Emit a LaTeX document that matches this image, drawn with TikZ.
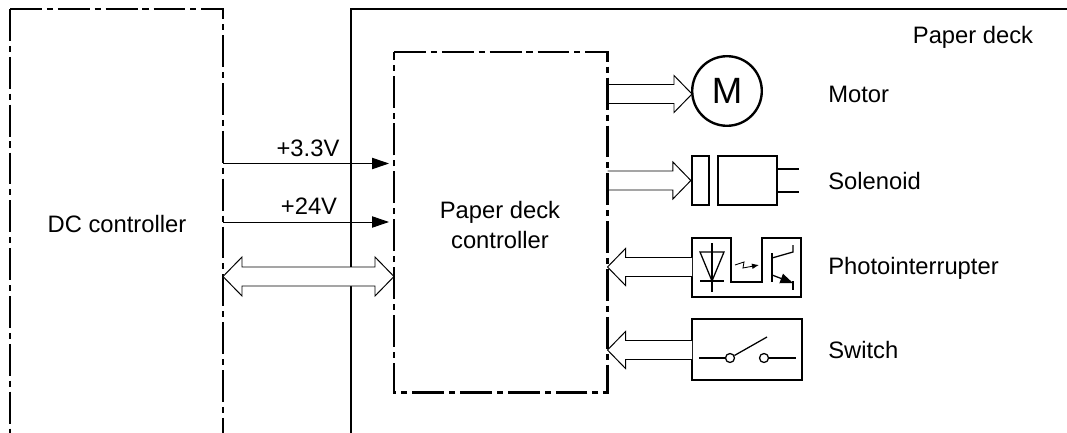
\documentclass[tikz,border=0pt]{standalone}
\usepackage{fontspec}
\setmainfont{Liberation Sans}
\usetikzlibrary{positioning, arrows.meta, calc}

\tikzset{
  label/.style={font=\fontsize{16.9}{21}\selectfont, inner sep=0pt, align=center},
  side/.style={label, anchor=west},
  dashdot/.style={line width=1.7pt, dash pattern=on 22.68pt off 3.5pt on 4.3pt off 3.54pt},
  solidbox/.style={draw, line width=1.7pt, inner sep=0pt},
  wire/.style={line width=0.7pt, -{Triangle[length=12pt,width=8pt]}},
  hollow/.style={draw, fill=white, line width=0.7pt},
  thin part/.style={line width=0.9pt}
}

% outline of a wide arrow, tip at the second point
\newcommand{\widearrow}[2]{
  \draw[hollow] ($(#1)!0.2375cm!90:(#2)$)
    -- ($($(#2)!0.45cm!(#1)$)!0.2375cm!90:(#2)$)
    -- ($($(#2)!0.45cm!(#1)$)!0.4625cm!90:(#2)$)
    -- (#2)
    -- ($($(#2)!0.45cm!(#1)$)!0.4625cm!-90:(#2)$)
    -- ($($(#2)!0.45cm!(#1)$)!0.2375cm!-90:(#2)$)
    -- ($(#1)!0.2375cm!-90:(#2)$);
}

\begin{document}
\begin{tikzpicture}[x=0.025cm, y=-0.025cm]

\useasboundingbox (0,0) rectangle (1067,433);

% ---------- BOXES ----------

\draw[dashdot] (10,9) -- (10,433);
\draw[dashdot] (10,9) -- (223,9) -- (223,433);
\draw[line width=1.7pt] (351,433) -- (351,9) -- (1067,9);

\node[label] (dc) at (117,224) {DC controller};
\node[label] (deck) at (973,37) {Paper deck};
\node[label] (ctrltext) at (500,225) {Paper deck\\controller};

% ---------- POWER AND BUS ----------

\coordinate (dc33) at (223,163.5);
\coordinate (ctrl33) at (389,163.5);
\coordinate (dc24) at (223,222);
\coordinate (ctrl24) at (389,222);
\coordinate (dcbus) at (223,276.5);
\coordinate (ctrlbus) at (394,276.5);

\draw[wire] (dc33) -- (ctrl33);
\draw[wire] (dc24) -- (ctrl24);
\node[label] (v33) at (308,148) {+3.3V};
\node[label] (v24) at (309,206) {+24V};

\draw[hollow] (dcbus) -- (242,257) -- (242,267) -- (375,267) -- (375,257) -- (ctrlbus)
  -- (375,296) -- (375,286) -- (242,286) -- (242,296) -- cycle;

% ---------- MOTOR ----------

\node[solidbox, circle, minimum size=49.5pt, font=\fontsize{26}{26}\selectfont] (motor) at (727,91) {M};
\node[side] (motorlabel) at (828,94) {Motor};
\coordinate (ctrlmotor) at (607.5,94);
\coordinate (motorin) at (692,94);
\widearrow{ctrlmotor}{motorin}

% ---------- SOLENOID ----------

\node[solidbox, minimum width=12pt, minimum height=35pt] (solbar) at (700.5,180.5) {};
\node[solidbox, minimum width=42pt, minimum height=35pt] (solbody) at (747.5,180.5) {};
\node[side] (sollabel) at (828,181) {Solenoid};
\coordinate (ctrlsol) at (607.5,180.5);
\coordinate (solleadA) at (799,169);
\coordinate (solleadB) at (799,192);
\draw[line width=1.7pt] (solbody.east |- solleadA) -- (solleadA);
\draw[line width=1.7pt] (solbody.east |- solleadB) -- (solleadB);
\widearrow{ctrlsol}{solbar.west}

% ---------- PHOTOINTERRUPTER ----------

\draw[line width=1.7pt] (692,238) -- (731,238) -- (731,282) -- (762,282) -- (762,238)
  -- (801,238) -- (801,297) -- (692,297) -- cycle;
\coordinate (photoin) at (692,267);
\coordinate (ctrlphoto) at (607.5,267);
\widearrow{photoin}{ctrlphoto}
\draw[thin part] (700,252) -- (724,252) -- (712,281) -- cycle;
\draw[thin part] (712,243) -- (712,292);
\draw[thin part] (700,281) -- (724,281);
\draw[line width=0.6pt, -{Latex[length=5pt,width=4pt]}] (735,265) -- (744,262) -- (743,268) -- (759,265);
\draw[line width=1.2pt] (772,253) -- (772,282);
\draw[thin part] (772,258) -- (793,252) -- (793,245);
\draw[thin part, -{Triangle[length=9pt,width=7pt]}] (772,275) -- (793,283);
\draw[thin part] (793,281) -- (793,290);
\node[side] (photolabel) at (828,268) {Photointerrupter};

% ---------- SWITCH ----------

\node[solidbox, minimum width=78pt, minimum height=43.5pt] (switchbox) at (747,349.5) {};
\node[side] (switchlabel) at (828,350) {Switch};
\coordinate (ctrlswitch) at (607.5,350);
\coordinate (switchin) at (692,350);
\widearrow{switchin}{ctrlswitch}
\node[circle, draw, thin part, minimum size=6.4pt, inner sep=0pt] (contactA) at (730,358) {};
\node[circle, draw, thin part, minimum size=6.4pt, inner sep=0pt] (contactB) at (764,358) {};
\coordinate (leadA) at (699,358);
\coordinate (leadB) at (796,358);
\coordinate (armend) at (767,337);
\draw[thin part] (leadA) -- (contactA);
\draw[thin part] (contactB) -- (leadB);
\draw[thin part] (contactA) -- (armend);

% ---------- CONTROLLER BORDER ----------

\draw[dashdot] (394,52) -- (607.5,52) -- (607.5,392.5) -- (394,392.5) -- cycle;

\end{tikzpicture}
\end{document}
